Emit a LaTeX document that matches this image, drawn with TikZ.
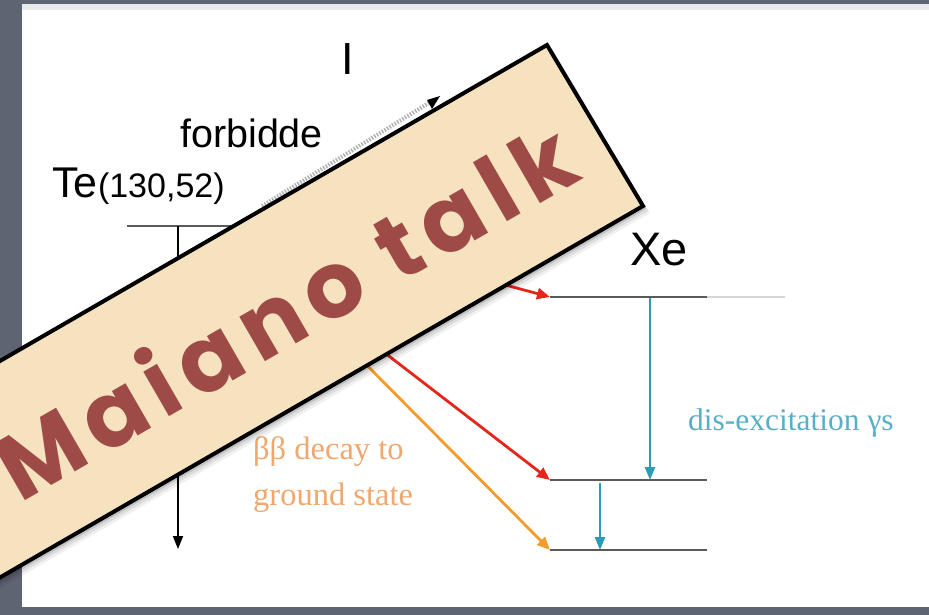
\documentclass[tikz,border=0pt]{standalone}
\usepackage{fontspec}
\setmainfont{Liberation Sans}
\newfontfamily\serifa{Liberation Serif}
\newfontfamily\banf{Poppins}[LetterSpace=11]
\usetikzlibrary{arrows.meta,calc}
\definecolor{bggray}{HTML}{5E6472}
\definecolor{topband}{HTML}{E9E9EA}
\definecolor{levelgray}{HTML}{5A5A5A}
\definecolor{arrred}{HTML}{E5261B}
\definecolor{arrorange}{HTML}{F39C2E}
\definecolor{arrcyan}{HTML}{2B9CB8}
\definecolor{txtcyan}{HTML}{5AAFC8}
\definecolor{txtorange}{HTML}{EFA86E}
\definecolor{bantan}{HTML}{F7E2C0}
\definecolor{banred}{HTML}{9E4B48}
\tikzset{
  level/.style={levelgray, line width=2.5pt},
  decayarrow/.style={line width=2.8pt, -{Triangle[length=13pt,width=11pt]}},
  gammaarrow/.style={arrcyan, line width=2.5pt, -{Triangle[length=13pt,width=10pt]}},
  lbl/.style={inner sep=0pt, text=black},
}
\begin{document}
\begin{tikzpicture}[x=1pt,y=-1pt]
\useasboundingbox (0,0) rectangle (929,615);
\clip (0,0) rectangle (929,615);
% background panel
\fill[bggray] (0,0) rectangle (929,615);
\fill[white] (22,4) rectangle (929,607);
\fill[topband] (22,4) rectangle (929,10);

% ---- labels ----
\node[lbl, anchor=base, font=\fontsize{45}{50}\selectfont] (ilab) at (348,75) {I};
\node[lbl, anchor=base west, font=\fontsize{39.5}{44}\selectfont] (forb) at (180,148) {forbidde};
\node[lbl, anchor=base west, font=\fontsize{43}{50}\selectfont] (te) at (52,197) {Te};
\node[lbl, anchor=base west, font=\fontsize{34}{38}\selectfont] (tesub) at (te.base east) {(130,52)};
\node[lbl, anchor=base west, font=\fontsize{47}{50}\selectfont] (xe) at (630,265) {Xe};
\node[inner sep=0pt, anchor=base west, text=txtcyan, font=\serifa\fontsize{31.5}{36}\selectfont] (dis) at (688,430) {dis-excitation γs};
\node[inner sep=0pt, anchor=base west, text=txtorange, align=left, font=\serifa\fontsize{32.5}{46}\selectfont] (bb) at (253,505) {ββ decay to\\ground state};

% ---- levels ----
\coordinate (teL) at (127,226);
\coordinate (teR) at (300,226);
\coordinate (teX) at (178,226);
\coordinate (teBot) at (178,549);
\coordinate (xeAL) at (550,297);
\coordinate (xeAR) at (707,297);
\coordinate (xeAF) at (785,297);
\coordinate (xeBL) at (550,480);
\coordinate (xeBR) at (707,480);
\coordinate (xeCL) at (550,550);
\coordinate (xeCR) at (707,550);
\coordinate (iTip) at (440,96);
\coordinate (forbStart) at (262,206);
\coordinate (srcA) at (420,262);
\coordinate (srcB) at (320,303);
\coordinate (srcC) at (320,318);

\draw[level] (teL) -- (teR);
\draw[level] (xeAL) -- (xeAR);
\draw[levelgray!25, line width=2pt] (xeAR) -- (xeAF);
\draw[level] (xeBL) -- (xeBR);
\draw[level] (xeCL) -- (xeCR);

% ---- arrows ----
\draw[black, line width=1.8pt, -{Triangle[length=13pt,width=10pt]}] (teX) -- (teBot);
\draw[gray!60, line width=4pt, dash pattern=on 1.5pt off 1.5pt] (forbStart) -- ($(iTip)!0.06!(forbStart)$);
\fill[black] (iTip) -- ++(-13,4) -- ++(5,9) -- cycle;
\draw[decayarrow, arrred] (srcA) -- (xeAL);
\draw[decayarrow, arrred] (srcB) -- (xeBL);
\draw[decayarrow, arrorange] (srcC) -- (xeCL);
\draw[gammaarrow] (650,298) -- (650,480);
\draw[gammaarrow] (600,483) -- (600,550);

% ---- banner ----
\coordinate (bA) at (547,45);
\coordinate (bB) at (643,206);
\coordinate (bC) at (-136,656);
\coordinate (bD) at (-232,495);
\foreach \s/\o in {7/0.06,5/0.08,3/0.12}{
  \fill[black, opacity=\o] ([shift={(\s,\s)}]bA) -- ([shift={(\s,\s)}]bB) -- ([shift={(\s,\s)}]bC) -- ([shift={(\s,\s)}]bD) -- cycle;
}
\draw[fill=bantan, line width=4pt, line join=miter] (bA) -- (bB) -- (bC) -- (bD) -- cycle;
\node[rotate=30, text=banred, inner sep=0pt, font=\banf\bfseries\fontsize{92}{96}\selectfont] (ban) at (284,309) {Maiano talk};
\end{tikzpicture}
\end{document}
